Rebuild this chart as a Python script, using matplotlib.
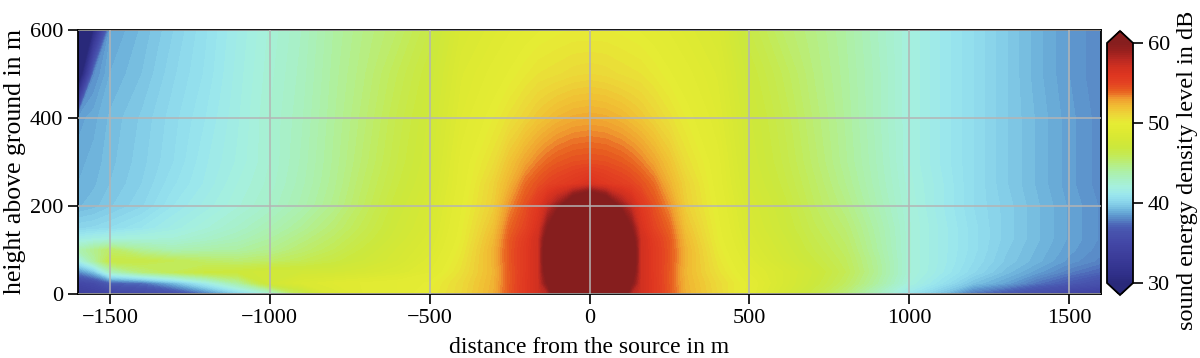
import numpy as np
import matplotlib
matplotlib.use("Agg")
import matplotlib.pyplot as plt
from matplotlib.colors import LinearSegmentedColormap

plt.rcParams['font.family'] = ['Liberation Serif', 'DejaVu Serif']

# ---- data ----
distance_m = [-1600, -1550, -1500, -1400, -1300, -1200, -1100, -1000, -900, -800,
              -700, -600, -500, -400, -300, -250, -200, -160, -130, -100, -50,
              0, 50, 100, 130, 160, 200, 250, 300, 400, 500,
              600, 700, 800, 900, 1000, 1100, 1200, 1300, 1400, 1500, 1600]
height_m = [0, 25, 50, 75, 100, 125, 150, 200, 250, 300, 400, 500, 600]

# sound energy density level (dB) along each height row; values above 60 are saturated
level_h000 = [33.5, 34, 34.5, 35, 35.5, 37.5, 39.8, 42, 46, 48.5, 49.3, 49.5, 50, 51, 52.5, 54.3, 55.8, 57, 58, 63, 65,
              66, 65, 63, 58, 57, 55.8, 54.3, 52.5, 51, 49.5, 48, 46.5, 45, 43, 41, 39.5, 37.5, 36.5, 35.5, 34.5, 34]
level_h025 = [35, 35.5, 37, 37.5, 39.3, 41.5, 44, 47.5, 48.5, 49, 49.3, 49.5, 49.8, 50.9, 52.4, 54.2, 55.8, 57, 60.3, 64, 67,
              68, 67, 64, 60.3, 57, 55.8, 54.2, 52.4, 50.9, 49.6, 48.3, 47, 45.7, 44, 42, 40.8, 39.5, 38.7, 37.6, 36.8, 36]
level_h050 = [38, 39.5, 43, 45, 46, 46.8, 47, 47.5, 47.5, 47.6, 48, 48.5, 49.2, 50.6, 52.3, 54.2, 55.7, 57, 61.7, 66, 69,
              70, 69, 66, 61.7, 57, 55.7, 54.2, 52.3, 50.6, 49.2, 48.3, 47.2, 46, 44.3, 42.3, 41.3, 40.3, 39.4, 38.6, 37.8, 37.2]
level_h075 = [41.5, 44, 46.5, 46.5, 46, 45.5, 45.2, 45.5, 46, 46.6, 47.3, 48, 48.9, 50.4, 52.4, 54.3, 55.7, 57, 62.6, 67, 69,
              70, 69, 67, 62.6, 57, 55.7, 54.3, 52.4, 50.4, 48.9, 47.8, 46.8, 45.8, 44.2, 42.3, 41.4, 40.5, 39.7, 39.1, 38.4, 37.9]
level_h100 = [43.5, 44.5, 45.5, 44.2, 43.5, 43.8, 44, 44.5, 45.3, 46, 46.9, 47.8, 48.6, 50.2, 52.4, 54.3, 55.7, 57, 62.6, 67, 69,
              70, 69, 67, 62.6, 57, 55.7, 54.3, 52.4, 50.2, 48.6, 47.6, 46.5, 45.6, 44, 42.3, 41.4, 40.6, 39.8, 39.2, 38.6, 38.1]
level_h125 = [41.5, 41.8, 42, 42.2, 42.3, 42.8, 43.3, 44, 44.8, 45.6, 46.5, 47.5, 48.4, 50, 52.2, 54.2, 55.5, 57, 61.5, 66, 69,
              70, 69, 66, 61.5, 57, 55.5, 54.2, 52.2, 50, 48.4, 47.4, 46.3, 45.4, 43.9, 42.3, 41.4, 40.6, 39.9, 39.3, 38.7, 38.2]
level_h150 = [40.2, 40.3, 40.5, 41, 41.6, 42.2, 42.8, 43.5, 44.3, 45.2, 46.2, 47.3, 48.2, 49.9, 51.9, 53.9, 55, 56.5, 60, 63.9, 68,
              69, 68, 63.9, 60, 56.5, 55, 53.9, 51.9, 49.9, 48.2, 47.2, 46.1, 45.2, 43.8, 42.3, 41.4, 40.6, 39.9, 39.3, 38.7, 38.2]
level_h200 = [39.2, 39.4, 39.7, 40.2, 41, 41.6, 42.2, 42.8, 43.6, 44.6, 45.8, 47, 48, 49.7, 51.4, 53.2, 54.5, 55.8, 57.5, 59.15, 63.4,
              66.2, 63.4, 59.15, 57.5, 55.8, 54.5, 53.2, 51.4, 49.7, 48, 47, 45.8, 44.8, 43.5, 42.2, 41.3, 40.5, 39.9, 39.3, 38.7, 38.2]
level_h250 = [39, 39.2, 39.5, 40, 40.7, 41.3, 42, 42.6, 43.4, 44.4, 45.6, 46.7, 47.7, 49.5, 51.2, 52.4, 53.8, 54.5, 55, 55.3, 55.8,
              56.5, 55.8, 55.3, 55, 54.5, 53.8, 52.4, 51.2, 49.5, 47.7, 46.7, 45.6, 44.5, 43.3, 42.1, 41.3, 40.5, 39.8, 39.2, 38.6, 38.1]
level_h300 = [38.9, 39.1, 39.4, 39.9, 40.5, 41.2, 41.8, 42.5, 43.3, 44.3, 45.4, 46.5, 47.5, 49.4, 50.7, 51.8, 52.8, 53.5, 53.9, 54.2, 54.5,
              54.6, 54.5, 54.2, 53.9, 53.5, 52.8, 51.8, 50.7, 49.4, 47.5, 46.5, 45.4, 44.3, 43.2, 42, 41.2, 40.5, 39.8, 39.2, 38.6, 38.1]
level_h400 = [38.6, 38.9, 39.3, 39.8, 40.4, 41, 41.7, 42.5, 43.2, 44.2, 45.2, 46.3, 47.3, 49, 50, 50.6, 51.2, 51.7, 52, 52.3, 52.6,
              52.7, 52.6, 52.3, 52, 51.7, 51.2, 50.6, 50, 49, 47.3, 46.3, 45.2, 44.2, 43.1, 42, 41.2, 40.5, 39.8, 39.2, 38.6, 38.1]
level_h500 = [27, 38.2, 39, 39.5, 40.2, 40.8, 41.6, 42.4, 43.1, 44.1, 45, 46, 47, 48.7, 49.4, 49.8, 50.2, 50.5, 50.6, 50.7, 50.9,
              51, 50.9, 50.7, 50.6, 50.5, 50.2, 49.8, 49.4, 48.7, 47, 46, 45, 44.1, 43.1, 42, 41.2, 40.5, 39.8, 39.1, 38.5, 38]
level_h600 = [22, 30.5, 38.7, 39.3, 40, 40.7, 41.5, 42.3, 43, 44, 44.8, 45.5, 46.5, 48.3, 48.9, 49.2, 49.5, 49.7, 49.8, 49.9, 50,
              50, 50, 49.9, 49.8, 49.7, 49.5, 49.2, 48.9, 48.3, 46.5, 45.5, 44.8, 44, 43, 42, 41.2, 40.5, 39.8, 39.1, 38.5, 38]

cbar_ticks = [30, 40, 50, 60]
x_ticks = [-1500, -1000, -500, 0, 500, 1000, 1500]
y_ticks = [0, 200, 400, 600]

# colour map
cmap_values = [30, 31, 33, 35, 36.5, 37, 37.5, 38, 38.5, 39, 39.5, 40, 41, 42, 43, 44, 45, 46, 47, 48,
               49, 50, 51, 52, 53, 53.5, 54, 55, 56, 57, 58, 59, 60]
cmap_colors = ['#29297a', '#2f2f88', '#3a3b98', '#4347a6', '#4854ae', '#4a5eb4', '#5070bc', '#5888c6',
               '#609cd0', '#6cb0da', '#7ac2e2', '#88d2ea', '#9ae6ee', '#a6f0de', '#a8f0c4', '#aef0a4',
               '#b8ee7c', '#c4ea54', '#cce83c', '#d6e834', '#dfea32', '#e6ec34', '#ecd838', '#f0c034',
               '#f0a030', '#ec7c2a', '#e86020', '#e44222', '#de3620', '#d03020', '#b82822', '#98201e', '#861e1e']

# ---- figure ----
Z = np.array([level_h000, level_h025, level_h050, level_h075, level_h100, level_h125, level_h150,
              level_h200, level_h250, level_h300, level_h400, level_h500, level_h600])
X, Y = np.meshgrid(distance_m, height_m)

vmin, vmax = 30, 60
pos = [(v - vmin) / (vmax - vmin) for v in cmap_values]
cmap = LinearSegmentedColormap.from_list('sound', list(zip(pos, cmap_colors)), N=512)
cmap.set_under('#29297a')
cmap.set_over('#861e1e')

W, H = 1200, 358
fig = plt.figure(figsize=(W / 100, H / 100), dpi=100)
ax = fig.add_axes([78 / W, (H - 294) / H, (1101 - 78) / W, (294 - 30) / H])
cax = fig.add_axes([1107 / W, (H - 295) / H, 26 / W, (295 - 31) / H])

levels = np.linspace(vmin, vmax, 121)
cf = ax.contourf(X, Y, Z, levels=levels, cmap=cmap, extend='both')

ax.set_xlim(-1600, 1600)
ax.set_ylim(0, 600)
ax.set_xticks(x_ticks)
ax.set_yticks(y_ticks)
ax.grid(True, color='#b4b4b4', linewidth=1.1)
ax.set_axisbelow(False)
for s in ax.spines.values():
    s.set_linewidth(1.3)
ax.tick_params(labelsize=16, length=7, width=1.2, direction='out')
ax.set_xlabel('distance from the source in m', fontsize=17, labelpad=7)
ax.set_ylabel('height above ground in m', fontsize=18.5, labelpad=3)

cb = fig.colorbar(cf, cax=cax, extend='both', ticks=cbar_ticks)
cb.outline.set_linewidth(1.3)
cb.ax.tick_params(labelsize=16, length=7, width=1.2)
cb.set_label('sound energy density level in dB', fontsize=17.5, labelpad=5)
cb.ax.yaxis.label.set_y(0.47)

fig.savefig('out.png', dpi=100)
